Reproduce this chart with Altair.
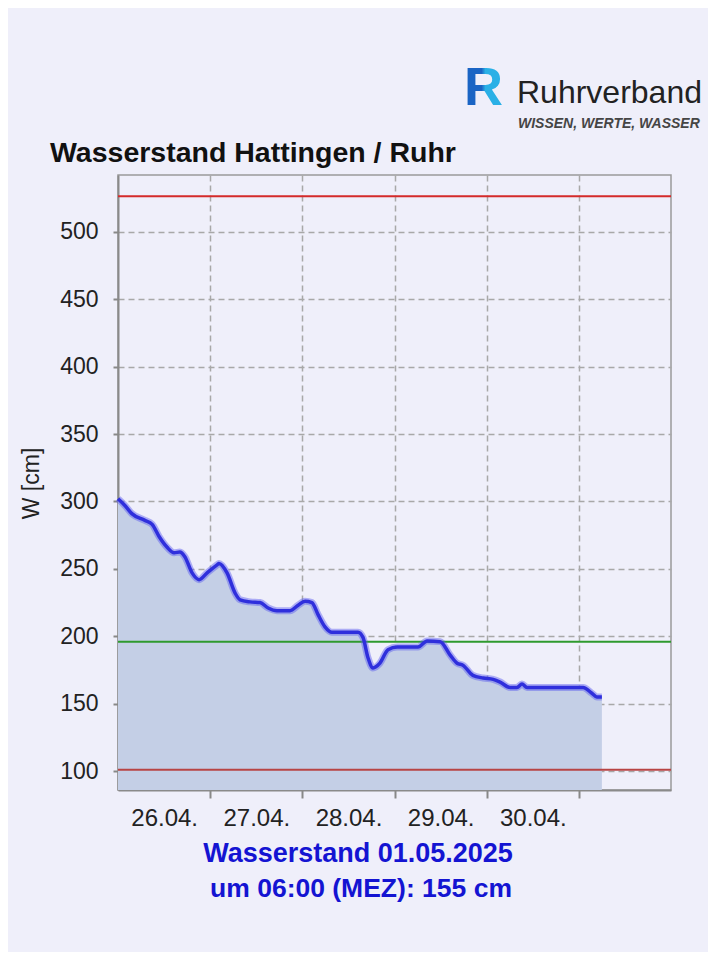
import altair as alt
import pandas as pd

# Hours since 26.04. 00:00 and water level W [cm]
hours = [0, 1.8, 3.6, 7.0, 8.9, 10.7, 12.8, 14.6, 16.1, 17.4,
         19.3, 21.1, 23.2, 25.8, 26.3, 28.4, 30.5, 31.8, 34.4, 37.0,
         39.1, 41.4, 44.8, 46.9, 48.7, 50.5, 52.1, 53.9, 55.7, 62.5,
         63.8, 65.1, 66.4, 68.2, 70.3, 72.7, 78.1, 80.5, 83.9, 86.5,
         88.3, 89.8, 92.4, 95.1, 97.7, 99.5, 102.1, 103.9, 105.2, 106.5,
         121.1, 123.4, 124.7, 126]
levels = [302, 297, 291, 286, 283, 274, 266, 262, 262.5, 259,
          247, 242, 247, 253, 254, 247, 232, 227, 225.5, 225,
          221, 219, 219, 223, 226, 225, 216, 207, 203, 203,
          199, 184, 176.5, 180, 190, 192, 192, 196.5, 196, 186,
          180, 178.5, 171, 169, 168, 166, 162, 162, 164.5, 162,
          162, 157.7, 155, 155]

day_ticks = [24, 48, 72, 96, 120]
day_labels = ["26.04.", "27.04.", "28.04.", "29.04.", "30.04."]
y_ticks = [100, 150, 200, 250, 300, 350, 400, 450, 500]

limit_values = [526.5, 101]
limit_colors = ["#d42a2a", "#b84444"]
mean_value = [196]
mean_color = "#2e9a2e"

title_text = "Wasserstand Hattingen / Ruhr"
footer_lines = ["Wasserstand 01.05.2025", "um 06:00 (MEZ): 155 cm"]
logo_name = "Ruhrverband"
logo_claim = "WISSEN, WERTE, WASSER"

df = pd.DataFrame({"h": hours, "w": levels})

BG = "#efeffa"
FONT = "Liberation Sans"

label_expr = "[" + ",".join("'" + s + "'" for s in day_labels) + "][round(datum.value/24) - 1]"

xscale = alt.Scale(domain=[0, 144], nice=False, zero=False)
yscale = alt.Scale(domain=[85.9, 542.3], nice=False, zero=False)

xaxis = alt.Axis(values=day_ticks, labelExpr=label_expr, title=None,
                 grid=True, gridDash=[6, 4], gridColor="#a8a8a8", gridWidth=1.5,
                 tickSize=8, tickColor="#888", tickWidth=2,
                 domainColor="#8a8a8a", domainWidth=2,
                 labelFont=FONT, labelFontSize=24, labelColor="#222",
                 labelOffset=-46, labelPadding=8, labelOverlap=False, labelFlush=False)
yaxis = alt.Axis(values=y_ticks, title="W [cm]", titleFont=FONT, titleFontSize=23,
                 titleFontWeight="normal", titleColor="#222", titleAngle=270,
                 titleX=-87, titleY=308, titleAlign="center", titleBaseline="middle",
                 grid=True, gridDash=[6, 4], gridColor="#a8a8a8", gridWidth=1.5,
                 tickSize=5, tickColor="#888", tickWidth=2,
                 domainColor="#8a8a8a", domainWidth=2,
                 labelFont=FONT, labelFontSize=23, labelColor="#222", labelPadding=15)

base = alt.Chart(df)

area = base.mark_area(color="#c4cfe6", opacity=1, interpolate="monotone", clip=True).encode(
    x=alt.X("h:Q", scale=xscale, axis=xaxis),
    y=alt.Y("w:Q", scale=yscale, axis=yaxis),
    y2=alt.datum(85.9),
)

halo = base.mark_line(color="#5a5af0", strokeWidth=7, opacity=0.45, interpolate="monotone").encode(
    x=alt.X("h:Q", scale=xscale), y=alt.Y("w:Q", scale=yscale))
line = base.mark_line(color="#2f2fdc", strokeWidth=3.5, interpolate="monotone").encode(
    x=alt.X("h:Q", scale=xscale), y=alt.Y("w:Q", scale=yscale))

limits_df = pd.DataFrame({"v": limit_values, "c": limit_colors})
limits = alt.Chart(limits_df).mark_rule(strokeWidth=2).encode(
    y=alt.Y("v:Q", scale=yscale), color=alt.Color("c:N", scale=None))
mean_rule = alt.Chart(pd.DataFrame({"v": mean_value})).mark_rule(strokeWidth=2, color=mean_color).encode(
    y=alt.Y("v:Q", scale=yscale))

def txt(text, x, y, **kw):
    return alt.Chart(pd.DataFrame({"t": [text]})).mark_text(font=FONT, **kw).encode(
        text="t:N", x=alt.value(x), y=alt.value(y))

logo_grad = alt.LinearGradient(
    gradient="linear",
    stops=[alt.GradientStop(color="#1a64c4", offset=0),
           alt.GradientStop(color="#1a64c4", offset=0.45),
           alt.GradientStop(color="#2ab0e6", offset=0.55),
           alt.GradientStop(color="#2ab0e6", offset=1)],
    x1=0, x2=1, y1=0, y2=0)

title = txt(title_text, -68, -13, fontSize=28.5, fontWeight="bold", color="#111", align="left", baseline="alphabetic")
foot1 = txt(footer_lines[0], 240, 687, fontSize=27, fontWeight="bold", color="#1414d2", align="center", baseline="alphabetic")
foot2 = txt(footer_lines[1], 243, 722, fontSize=26.5, fontWeight="bold", color="#1414d2", align="center", baseline="alphabetic")
logo_r = txt("R", 346, -70, fontSize=54, fontWeight="bold", color=logo_grad, align="left", baseline="alphabetic")
logo_n = txt(logo_name, 399, -72, fontSize=32, color="#222", align="left", baseline="alphabetic")
logo_c = txt(logo_claim, 400, -47, fontSize=14, fontWeight="bold", fontStyle="italic", color="#454545", align="left", baseline="alphabetic")

chart = alt.layer(area, limits, mean_rule, halo, line, title, foot1, foot2,
                  logo_r, logo_n, logo_c).properties(
    width=553, height=615,
    padding={"left": 110, "top": 167, "right": 37, "bottom": 162},
    autosize=alt.AutoSizeParams(type="none"),
    background=BG,
).configure_view(stroke="#9a9a9a", strokeWidth=1.5, fill=BG)

chart.save("out.html", embed_options={"renderer": "svg", "actions": False})
